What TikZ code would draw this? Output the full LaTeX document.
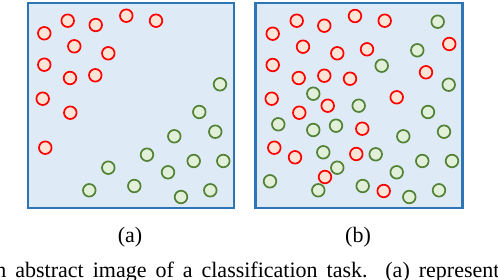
\documentclass[tikz,border=0pt]{standalone}
\usepackage{fontspec}
\setmainfont{Liberation Serif}
\usepackage{xcolor}
\usepackage{tikz}
\usetikzlibrary{positioning}

\definecolor{panelfill}{HTML}{DEEBF7}
\definecolor{panelline}{HTML}{2E75B6}
\definecolor{redline}{HTML}{FF0000}
\definecolor{redfill}{HTML}{FBE5D6}
\definecolor{greenline}{HTML}{538135}
\definecolor{greenfill}{HTML}{E2F0D9}

\begin{document}
\begin{tikzpicture}[
    x=1pt, y=-1pt,
    panel/.style  ={draw=panelline, line width=2.6pt, fill=panelfill, inner sep=0pt, minimum width=205.8pt, minimum height=205pt},
    pa/.style     ={draw=panelline, line width=2.6pt, fill=panelfill, inner sep=0pt, minimum width=207pt, minimum height=205pt},
    redpt/.style  ={circle, draw=redline, line width=1.7pt, fill=redfill, inner sep=0pt, minimum size=12.6pt},
    greenpt/.style={circle, draw=greenline, line width=1.7pt, fill=greenfill, inner sep=0pt, minimum size=12.6pt},
    lbl/.style    ={font=\fontsize{22}{26}\selectfont, inner sep=0pt}
]
\useasboundingbox (0,0) rectangle (498,280);
\clip (0,0) rectangle (498,280);

% --- Panels ---
\node[panel] (pla) at (130.9,105.5) {};
\node[pa]    (plb) at (358.8,105.5) {};

% --- (a): separated classes ---
\foreach \x/\y [count=\i] in {67.7/20.7, 95.7/25, 126.3/15.7, 156/20.7, 44.3/33.3, 74.3/46.3,
    108.3/53.3, 44.3/64.7, 70/78, 95.3/75.3, 42.7/98.7, 70.3/112.7, 45.3/147.7}
  \node[redpt] (ra\i) at (\x,\y) {};
\foreach \x/\y [count=\i] in {220/84.3, 199.3/112, 215.3/131.7, 174.3/136.3, 147/154.7, 193.7/161,
    223.3/161, 108.3/167.7, 168/172.3, 134.3/186, 89.3/190.3, 210.3/190.3, 181/197}
  \node[greenpt] (ga\i) at (\x,\y) {};

% --- (b): mixed classes ---
\foreach \x/\y [count=\i] in {296.7/20.7, 324.3/25.7, 355/16, 384.7/20.7, 272.7/33.7, 303/46.7,
    337.3/53.3, 367/49.3, 449.3/44, 272.7/65, 298.7/78, 324.3/75.7, 350/78.7, 426/72.3,
    271.7/98.7, 396.7/97.3, 327.7/105.7, 299.3/112.7, 362.3/128.7, 274.3/147.7, 295/157.3,
    356.3/154, 325/177, 383.7/191}
  \node[redpt] (rb\i) at (\x,\y) {};
\foreach \x/\y [count=\i] in {437.7/21.7, 417.3/50.3, 381.7/65.7, 448.7/84.7, 313.3/93.7, 358.7/105.7,
    428/112, 278.3/124.3, 313.3/130, 336/125.7, 444/131.7, 403.3/136.3, 323.3/152.3, 375.7/154.3,
    422.3/161, 452/161, 337.3/167.7, 396.7/172.3, 270/181.3, 318.3/190.3, 362.7/186, 409.3/197,
    439/190.3}
  \node[greenpt] (gb\i) at (\x,\y) {};

% --- Labels ---
\node[lbl, anchor=base] (capa) at (130,242.5) {(a)};
\node[lbl, anchor=base] (capb) at (358,242.5) {(b)};
\node[lbl, anchor=base west] (cap) at (-4.8,277.5) {\makebox[504pt][s]{n abstract image of a classification task. (a) represent}};

\end{tikzpicture}
\end{document}
